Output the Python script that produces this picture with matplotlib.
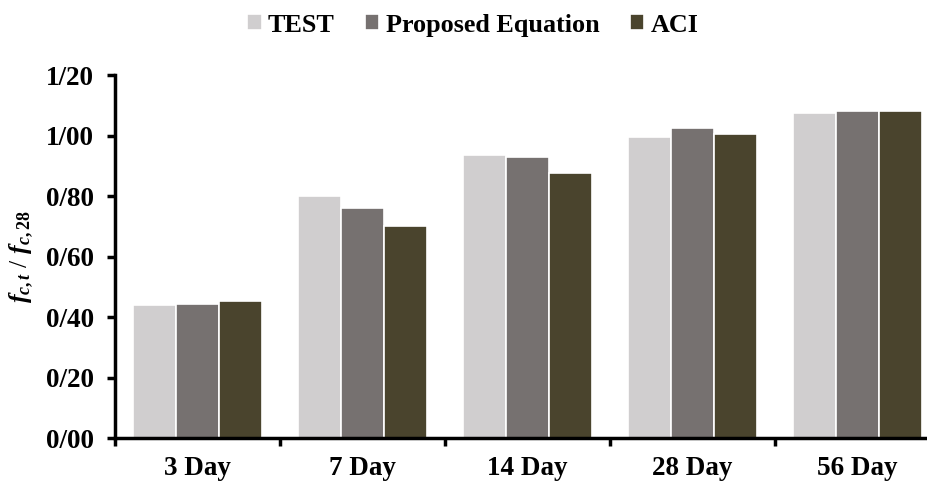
import numpy as np
import matplotlib.pyplot as plt
from matplotlib.ticker import FuncFormatter

plt.rcParams['font.family'] = 'Liberation Serif'
plt.rcParams['font.weight'] = 'bold'
plt.rcParams['mathtext.fontset'] = 'custom'
plt.rcParams['mathtext.it'] = 'Liberation Serif:italic:bold'
plt.rcParams['mathtext.rm'] = 'Liberation Serif:bold'

# datos
categorias = ['3 Day', '7 Day', '14 Day', '28 Day', '56 Day']
test = [0.439, 0.799, 0.937, 0.995, 1.075]
propuesta = [0.445, 0.760, 0.929, 1.027, 1.080]
aci = [0.455, 0.700, 0.877, 1.004, 1.081]
series = ['TEST', 'Proposed Equation', 'ACI']
colores = ['#D0CECF', '#767170', '#4A442D']

fig = plt.figure(figsize=(9.27, 4.82), dpi=100)
ax = fig.add_axes([0.124, 0.091, 0.89, 0.753])

x = np.arange(len(categorias))
w = 0.26
for i, (vals, nombre, c) in enumerate(zip([test, propuesta, aci], series, colores)):
    ax.bar(x + (i - 1) * w, vals, w, color=c, edgecolor='white', linewidth=1.2, label=nombre)

ax.set_xlim(-0.5, 4.5)
ax.set_ylim(0, 1.2)
ax.set_yticks(np.arange(0, 1.21, 0.2))
ax.yaxis.set_major_formatter(FuncFormatter(lambda v, p: f'{v:.2f}'.replace('.', '/')))

# ticks del eje x en los limites de cada categoria, etiquetas al centro
ax.set_xticks(np.arange(-0.5, 5, 1))
ax.set_xticklabels([])
ax.set_xticks(x, minor=True)
ax.set_xticklabels(categorias, minor=True)
ax.tick_params(axis='x', which='minor', length=0, pad=13, labelsize=19.5)
ax.tick_params(axis='x', which='major', length=6, width=2.5, direction='out')
ax.tick_params(axis='y', length=6, width=2.5, labelsize=19.5, pad=9)

for s in ['top', 'right']:
    ax.spines[s].set_visible(False)
for s in ['left', 'bottom']:
    ax.spines[s].set_linewidth(2.5)

ax.set_ylabel(r'$f_{c,t}$ / $f_{c,28}$', fontsize=18.5)
ax.yaxis.set_label_coords(-0.096, 0.5)

fig.legend(loc='center', bbox_to_anchor=(0.51, 0.948), ncol=3, frameon=False,
           fontsize=18.8, handlelength=0.55, handleheight=0.55, handletextpad=0.25,
           columnspacing=1.15)

fig.savefig('out.png', dpi=100)
